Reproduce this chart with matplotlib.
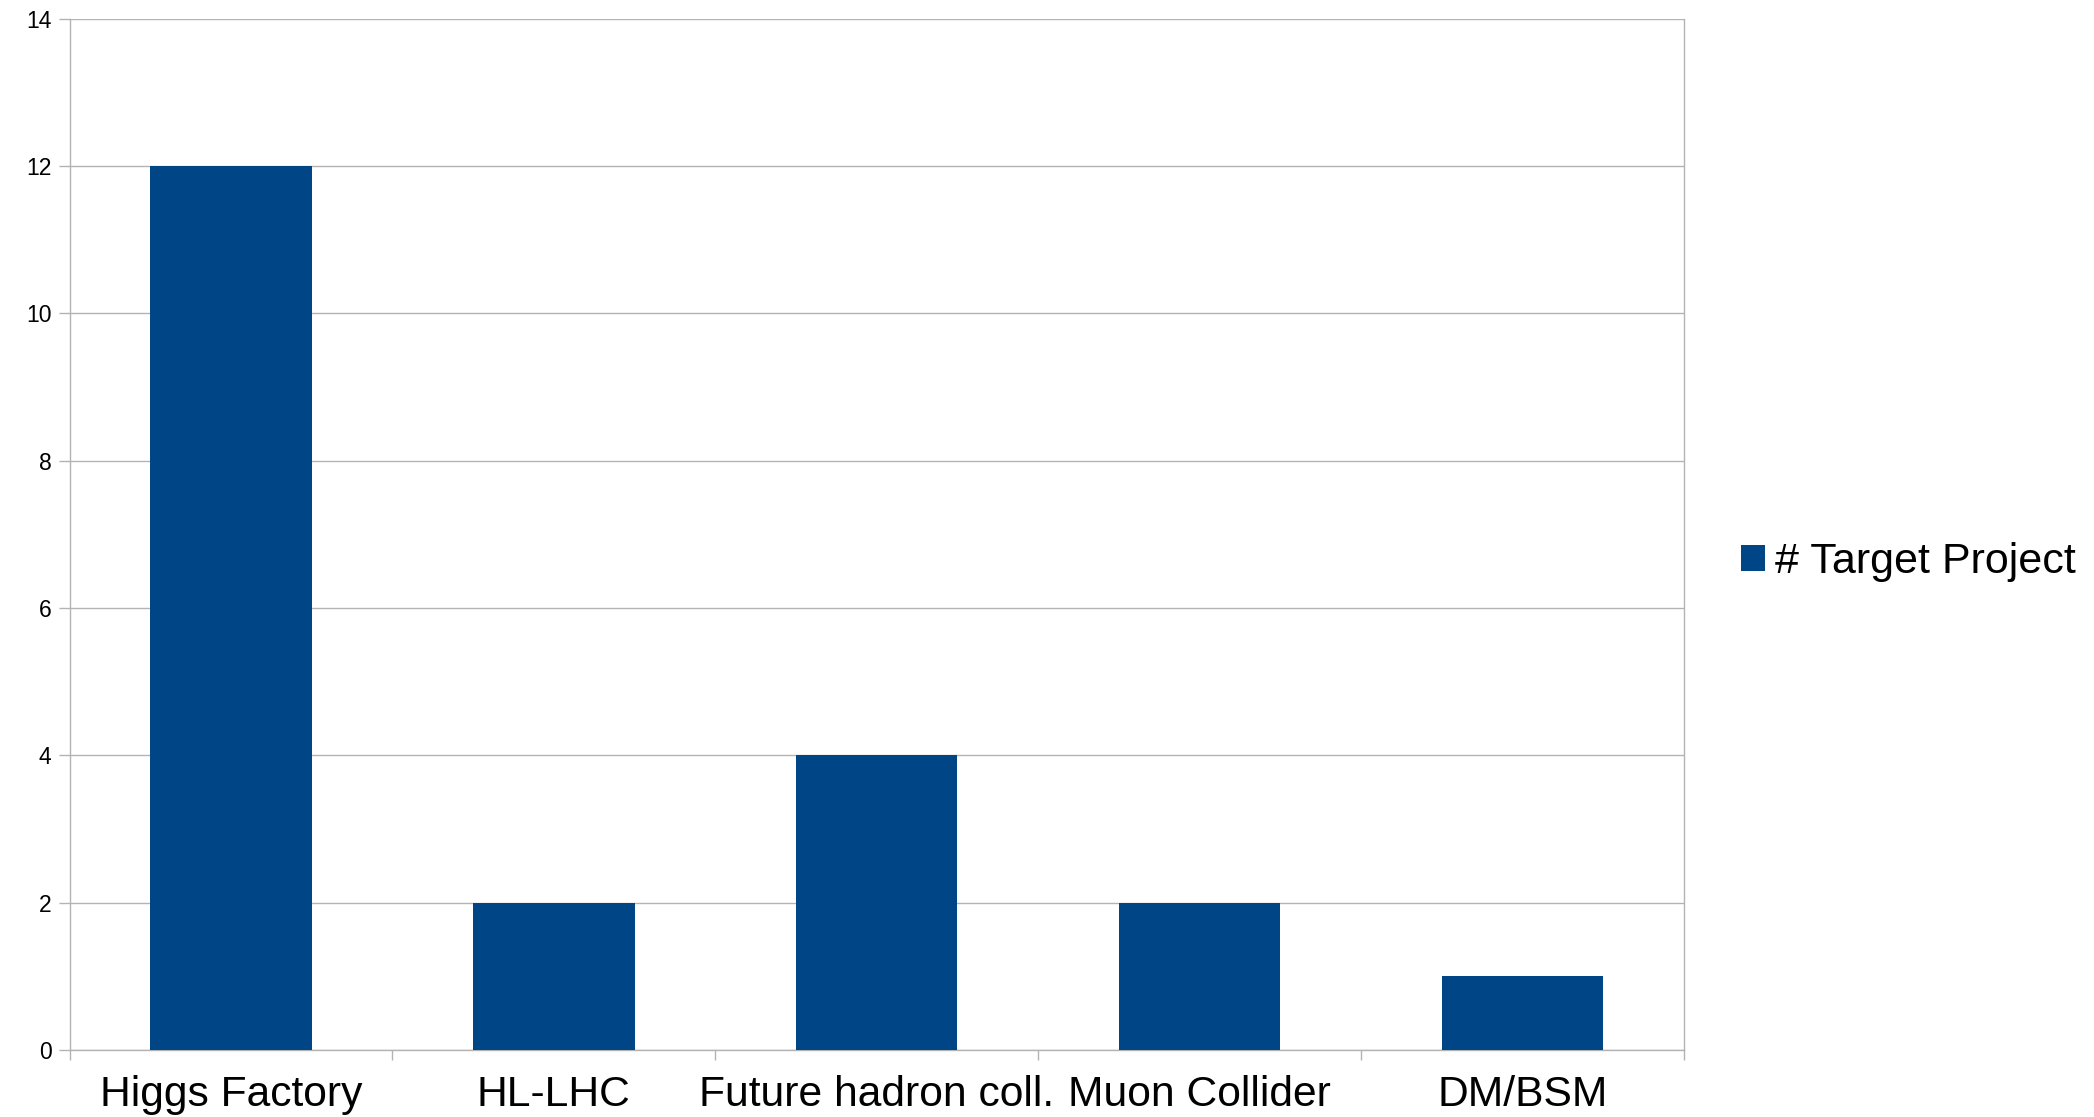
import matplotlib.pyplot as plt
import numpy as np

plt.rcParams['font.family'] = ['Liberation Sans', 'DejaVu Sans']

categories = ['Higgs Factory', 'HL-LHC', 'Future hadron coll.', 'Muon Collider', 'DM/BSM']
target_project = [12, 2, 4, 2, 1]
y_ticks = [0, 2, 4, 6, 8, 10, 12, 14]

bar_color = '#004586'
line_color = '#b3b3b3'

fig = plt.figure(figsize=(20.94, 11.17), dpi=100)
ax = fig.add_axes([69.5 / 2094, 1 - 1050 / 1117, (1684 - 69.5) / 2094, (1050 - 18.7) / 1117])

x = np.arange(len(categories))
ax.bar(x, target_project, width=0.5, color=bar_color, label='# Target Project', zorder=3)

ax.set_xlim(-0.5, len(categories) - 0.5)
ax.set_ylim(0, 14)
ax.set_yticks(y_ticks)
ax.set_yticklabels([str(v) for v in y_ticks], fontsize=16.5)
ax.yaxis.grid(True, color=line_color, linewidth=1.0, zorder=0)

ax.set_xticks(x)
ax.set_xticklabels(categories, fontsize=30.7)
ax.set_xticks(np.arange(-0.5, len(categories), 1.0), minor=True)
ax.tick_params(axis='x', which='major', length=0, pad=18)
ax.tick_params(axis='x', which='minor', length=7.5, width=1.0, color=line_color)
ax.tick_params(axis='y', length=8, width=1.0, color=line_color, pad=5)

for side in ['left', 'right', 'top', 'bottom']:
    ax.spines[side].set_color(line_color)
    ax.spines[side].set_linewidth(1.0)
ax.spines['top'].set_visible(False)

fig.legend(loc='center left', bbox_to_anchor=(1741 / 2094, 1 - 562 / 1117),
           frameon=False, fontsize=31, handlelength=0.56, handleheight=0.56,
           handletextpad=0.22, borderaxespad=0, borderpad=0)

fig.savefig('out.png', dpi=100)
